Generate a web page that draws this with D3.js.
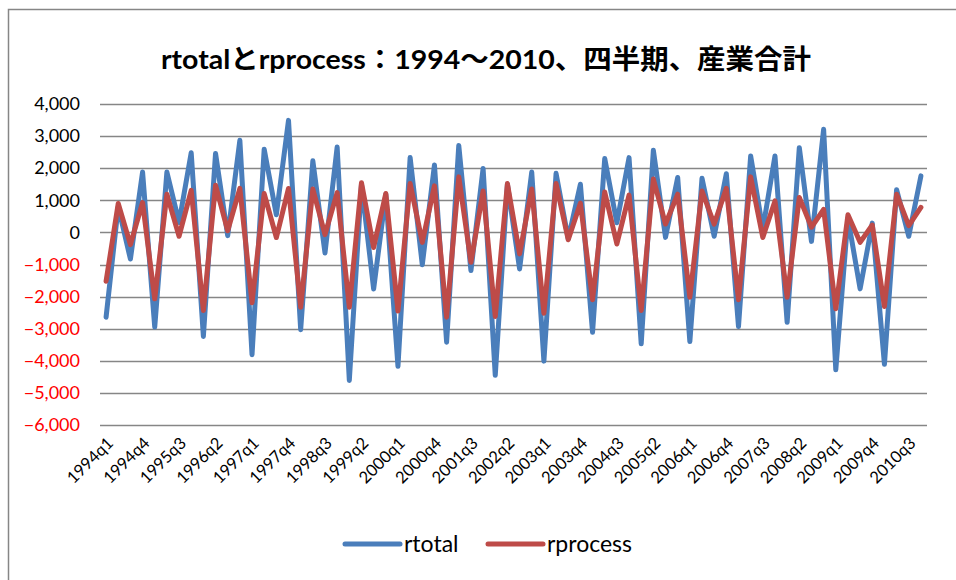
<!DOCTYPE html>
<html>
<head>
<meta charset="utf-8">
<script src="https://cdn.jsdelivr.net/npm/d3@7/dist/d3.min.js"></script>
<style>
  html, body { margin: 0; padding: 0; background: #fff; }
  svg { display: block; }
  text { font-family: Lato, "Liberation Sans", "Noto Sans CJK JP", sans-serif; }
</style>
</head>
<body>
<script>
// Quarterly categories, 1994q1 .. 2010q4
const quarters = [
  "1994q1","1994q2","1994q3","1994q4","1995q1","1995q2","1995q3","1995q4",
  "1996q1","1996q2","1996q3","1996q4","1997q1","1997q2","1997q3","1997q4",
  "1998q1","1998q2","1998q3","1998q4","1999q1","1999q2","1999q3","1999q4",
  "2000q1","2000q2","2000q3","2000q4","2001q1","2001q2","2001q3","2001q4",
  "2002q1","2002q2","2002q3","2002q4","2003q1","2003q2","2003q3","2003q4",
  "2004q1","2004q2","2004q3","2004q4","2005q1","2005q2","2005q3","2005q4",
  "2006q1","2006q2","2006q3","2006q4","2007q1","2007q2","2007q3","2007q4",
  "2008q1","2008q2","2008q3","2008q4","2009q1","2009q2","2009q3","2009q4",
  "2010q1","2010q2","2010q3","2010q4"
];

const rtotal = [
  -2640, 800, -830, 1880, -2950, 1880, 310, 2480,
  -3240, 2460, -100, 2870, -3810, 2590, 550, 3490,
  -3030, 2230, -640, 2660, -4610, 1500, -1760, 1190,
  -4170, 2330, -1010, 2100, -3420, 2710, -1190, 1990,
  -4450, 1500, -1140, 1880, -4010, 1840, -200, 1500,
  -3110, 2300, 300, 2330, -3470, 2560, -155, 1710,
  -3400, 1690, -120, 1830, -2930, 2380, 100, 2380,
  -2800, 2640, -280, 3210, -4280, 450, -1760, 290,
  -4110, 1330, -120, 1760
];

const rprocess = [
  -1520, 900, -380, 930, -2070, 1190, -120, 1310,
  -2430, 1470, 50, 1370, -2190, 1210, -160, 1370,
  -2330, 1350, -70, 1240, -2330, 1550, -470, 1210,
  -2450, 1520, -310, 1450, -2640, 1730, -930, 1290,
  -2620, 1520, -670, 1350, -2520, 1520, -230, 910,
  -2100, 1260, -360, 1160, -2430, 1660, 260, 1190,
  -2020, 1290, 260, 1370, -2100, 1730, -160, 980,
  -2020, 1090, 160, 720, -2380, 550, -310, 230,
  -2310, 1190, 210, 780
];

const yTicks = [4000, 3000, 2000, 1000, 0, -1000, -2000, -3000, -4000, -5000, -6000];
const seriesNames = ["rtotal", "rprocess"];
const seriesColors = ["#4A7EBB", "#BE4B48"];
const titleText = "rtotalとrprocess：1994～2010、四半期、産業合計";

const W = 956, H = 580;
const plot = { left: 100, right: 927, top: 104, bottom: 425 };

const svg = d3.select("body").append("svg")
  .attr("width", W).attr("height", H);

// chart area frame (only the top and left edges fall inside the page)
svg.append("rect")
  .attr("x", 8.5).attr("y", 9.5)
  .attr("width", 1000).attr("height", 1000)
  .attr("fill", "#fff").attr("stroke", "#868686").attr("stroke-width", 1.5);

const x = d3.scaleBand().domain(quarters).range([plot.left, plot.right]).padding(0);
const y = d3.scaleLinear().domain([-6000, 4000]).range([plot.bottom, plot.top]);
const cx = d => x(d) + x.bandwidth() / 2;

// horizontal gridlines
svg.append("g").selectAll("line").data(yTicks).join("line")
  .attr("x1", plot.left).attr("x2", plot.right)
  .attr("y1", d => Math.round(y(d)) + 0.5).attr("y2", d => Math.round(y(d)) + 0.5)
  .attr("stroke", "#868686").attr("stroke-width", 1.5);

// y axis labels, negatives in red
const fmt = d3.format(",");
const yAxis = d3.axisLeft(y).tickValues(yTicks).tickFormat(d => fmt(d)).tickSize(0).tickPadding(20);
const gy = svg.append("g").attr("transform", `translate(${plot.left},0)`).call(yAxis);
gy.select(".domain").remove();
gy.selectAll("text")
  .attr("font-size", 18)
  .attr("font-family", "Lato, 'Liberation Sans', sans-serif")
  .attr("fill", d => d < 0 ? "#FF0000" : "#000");

// x axis labels, every third quarter, rotated
const xAxis = d3.axisBottom(x)
  .tickValues(quarters.filter((q, i) => i % 3 === 0))
  .tickSize(0);
const gx = svg.append("g").attr("transform", `translate(0,${plot.bottom})`).call(xAxis);
gx.select(".domain").remove();
gx.selectAll("text")
  .attr("font-size", 16.5)
  .attr("font-family", "Lato, 'Liberation Sans', sans-serif")
  .attr("fill", "#000")
  .attr("text-anchor", "end")
  .attr("dy", null)
  .attr("transform", "translate(6,17) rotate(-45)");

// series lines
const line = d3.line().x((d, i) => cx(quarters[i])).y(d => y(d));
[rtotal, rprocess].forEach((vals, k) => {
  svg.append("path")
    .datum(vals)
    .attr("d", line)
    .attr("fill", "none")
    .attr("stroke", seriesColors[k])
    .attr("stroke-width", 5)
    .attr("stroke-linejoin", "round")
    .attr("stroke-linecap", "round");
});

// title
svg.append("text")
  .attr("x", 486).attr("y", 69)
  .attr("text-anchor", "middle")
  .attr("font-size", 27)
  .attr("font-weight", "bold")
  .attr("font-family", "Lato, 'Noto Sans CJK JP', sans-serif")
  .attr("textLength", 650)
  .attr("lengthAdjust", "spacingAndGlyphs")
  .text(titleText);

// legend
const legendItems = [
  { name: seriesNames[0], color: seriesColors[0], x: 345 },
  { name: seriesNames[1], color: seriesColors[1], x: 488 }
];
const lg = svg.append("g");
legendItems.forEach(it => {
  lg.append("line")
    .attr("x1", it.x).attr("x2", it.x + 55)
    .attr("y1", 544).attr("y2", 544)
    .attr("stroke", it.color).attr("stroke-width", 5).attr("stroke-linecap", "round");
  lg.append("text")
    .attr("x", it.x + 59).attr("y", 552)
    .attr("font-size", 23)
    .attr("font-family", "Lato, 'Liberation Sans', sans-serif")
    .attr("fill", "#000")
    .text(it.name);
});
</script>
</body>
</html>
